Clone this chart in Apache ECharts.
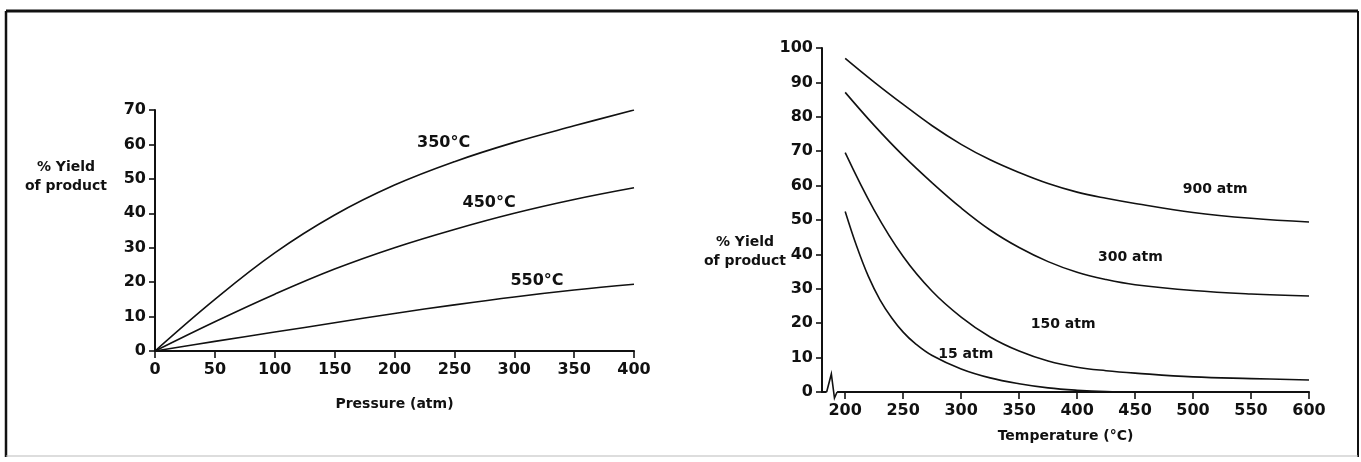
<!DOCTYPE html>
<html><head><meta charset="utf-8">
<script src="https://cdn.jsdelivr.net/npm/echarts@6/dist/echarts.min.js"></script>
<style>html,body{margin:0;padding:0;background:#fff}#c{width:1361px;height:462px}</style>
</head><body><div id="c"></div>
<script>
// Left chart: yield vs pressure
const pressure = [0, 50, 100, 150, 200, 250, 300, 350, 400];
const yield350C = [0, 15, 28.5, 39.5, 48.2, 55, 60.6, 65.4, 70];
const yield450C = [0, 8.5, 16.5, 23.8, 30, 35.3, 40, 44, 47.4];
const yield550C = [0, 2.8, 5.5, 8.2, 10.9, 13.4, 15.7, 17.7, 19.4];
const pressureTicks = [0, 50, 100, 150, 200, 250, 300, 350, 400];
const leftYTicks = [0, 10, 20, 30, 40, 50, 60, 70];

// Right chart: yield vs temperature
const temperature = [200, 225, 250, 275, 300, 325, 350, 375, 400, 425, 450, 500, 550, 600];
const yield900atm = [97, 90.1, 83.6, 77.4, 72, 67.5, 63.8, 60.6, 58.1, 56.3, 54.8, 52.2, 50.5, 49.4];
const yield300atm = [87.1, 77.5, 68.7, 60.8, 53.5, 47.1, 42, 37.9, 34.8, 32.7, 31.2, 29.5, 28.5, 27.9];
const yield150atm = [69.6, 52.9, 39.4, 29.3, 21.8, 16, 11.9, 9, 7.2, 6.2, 5.5, 4.4, 3.9, 3.5];
const temperature15 = [200, 210, 220, 230, 240, 250, 260, 275, 300, 325, 350, 375, 400, 425, 450];
const yield15atm = [52.5, 42.3, 33.6, 26.8, 21.6, 17.4, 14.2, 10.6, 6.7, 4.1, 2.4, 1.2, 0.5, 0.1, 0];
const temperatureTicks = [200, 250, 300, 350, 400, 450, 500, 550, 600];
const rightYTicks = [0, 10, 20, 30, 40, 50, 60, 70, 80, 90, 100];

const FONT = 'DejaVu Sans';
const zip = (xs, ys) => xs.map((x, i) => [x, ys[i]]);

function lineSeries(xi, yi, xs, ys, name, labelText, labelCoord, labelSize) {
  return {
    type: 'line', name, xAxisIndex: xi, yAxisIndex: yi,
    data: zip(xs, ys), showSymbol: false, smooth: 0.4,
    lineStyle: { color: '#111', width: 1.6 }, silent: true, animation: false,
    markPoint: {
      symbol: 'circle', symbolSize: 0, silent: true, animation: false,
      label: { show: true, position: 'inside', formatter: labelText, color: '#111',
               fontFamily: FONT, fontWeight: 'bold', fontSize: labelSize },
      data: [{ coord: labelCoord }]
    }
  };
}

const axisLine = { show: true, onZero: false, lineStyle: { color: '#111', width: 2 } };
const tickStyle = { color: '#111', width: 1.6 };
const labelStyle = { color: '#111', fontFamily: FONT, fontWeight: 'bold', fontSize: 16 };
const nameStyle = { color: '#111', fontFamily: FONT, fontWeight: 'bold', fontSize: 14 };

const chart = echarts.init(document.getElementById('c'), null, { renderer: 'canvas' });
const option = {
  backgroundColor: '#fff',
  animation: false,
  grid: [
    { left: 155, right: 727, top: 110, bottom: 111 },
    { left: 822, right: 52, top: 48, bottom: 70 }
  ],
  xAxis: [
    { type: 'value', gridIndex: 0, min: 0, max: 400, interval: 50,
      axisLine, splitLine: { show: false },
      axisTick: { show: true, length: 7, lineStyle: tickStyle, customValues: pressureTicks },
      axisLabel: { ...labelStyle, margin: 11, customValues: pressureTicks },
      name: 'Pressure (atm)', nameLocation: 'middle', nameGap: 46, nameTextStyle: nameStyle },
    { type: 'value', gridIndex: 1, min: 180, max: 600,
      axisLine, splitLine: { show: false },
      axisTick: { show: true, length: 7, lineStyle: tickStyle, customValues: temperatureTicks },
      axisLabel: { ...labelStyle, margin: 11, customValues: temperatureTicks },
      name: 'Temperature (°C)', nameLocation: 'middle', nameGap: 37, nameTextStyle: nameStyle }
  ],
  yAxis: [
    { type: 'value', gridIndex: 0, min: 0, max: 70, interval: 10,
      axisLine, splitLine: { show: false },
      axisTick: { show: true, length: 6, lineStyle: tickStyle, customValues: leftYTicks },
      axisLabel: { ...labelStyle, margin: 9, customValues: leftYTicks } },
    { type: 'value', gridIndex: 1, min: 0, max: 100, interval: 10,
      axisLine, splitLine: { show: false },
      axisTick: { show: true, length: 6, lineStyle: tickStyle, customValues: rightYTicks },
      axisLabel: { ...labelStyle, margin: 9, customValues: rightYTicks } }
  ],
  series: [
    lineSeries(0, 0, pressure, yield350C, '350°C', '350°C', [241, 60.5], 16),
    lineSeries(0, 0, pressure, yield450C, '450°C', '450°C', [279, 43], 16),
    lineSeries(0, 0, pressure, yield550C, '550°C', '550°C', [319, 20.5], 16),
    lineSeries(1, 1, temperature, yield900atm, '900 atm', '900 atm', [519, 58.8], 14),
    lineSeries(1, 1, temperature, yield300atm, '300 atm', '300 atm', [446, 39], 14),
    lineSeries(1, 1, temperature, yield150atm, '150 atm', '150 atm', [388, 19.6], 14),
    lineSeries(1, 1, temperature15, yield15atm, '15 atm', '15 atm', [304, 10.9], 14)
  ]
};
chart.setOption(option);

// decorations: frame, y-axis titles, axis-break squiggle
const b = chart.convertToPixel({ xAxisIndex: 1, yAxisIndex: 1 }, [184, 0]);
const e = chart.convertToPixel({ xAxisIndex: 1, yAxisIndex: 1 }, [193, 0]);
const w = e[0] - b[0];
const yTitle = (x, y) => ({
  type: 'text', x, y, silent: true,
  style: { text: '% Yield\nof product', fill: '#111', font: 'bold 14px "DejaVu Sans"',
           align: 'center', verticalAlign: 'middle', lineHeight: 19 }
});
chart.setOption({
  graphic: [
    { type: 'line', silent: true, shape: { x1: 6, y1: 11, x2: 1358, y2: 11 }, style: { stroke: '#111', lineWidth: 3 } },
    { type: 'line', silent: true, shape: { x1: 6, y1: 11, x2: 6, y2: 457 }, style: { stroke: '#111', lineWidth: 2.5 } },
    { type: 'line', silent: true, shape: { x1: 1358, y1: 11, x2: 1358, y2: 457 }, style: { stroke: '#111', lineWidth: 2 } },
    { type: 'line', silent: true, shape: { x1: 6, y1: 456, x2: 1358, y2: 456 }, style: { stroke: '#bbb', lineWidth: 1 } },
    yTitle(66, 177),
    yTitle(745, 252),
    { type: 'rect', silent: true, z: 100, shape: { x: b[0], y: b[1] - 2, width: w, height: 4 }, style: { fill: '#fff' } },
    { type: 'polyline', silent: true, z: 101,
      shape: { points: [[b[0], b[1]], [b[0] + w * 0.45, b[1] - 18], [b[0] + w * 0.75, b[1] + 6], [e[0], b[1]]] },
      style: { stroke: '#111', lineWidth: 1.6, fill: null } }
  ]
});
</script></body></html>
